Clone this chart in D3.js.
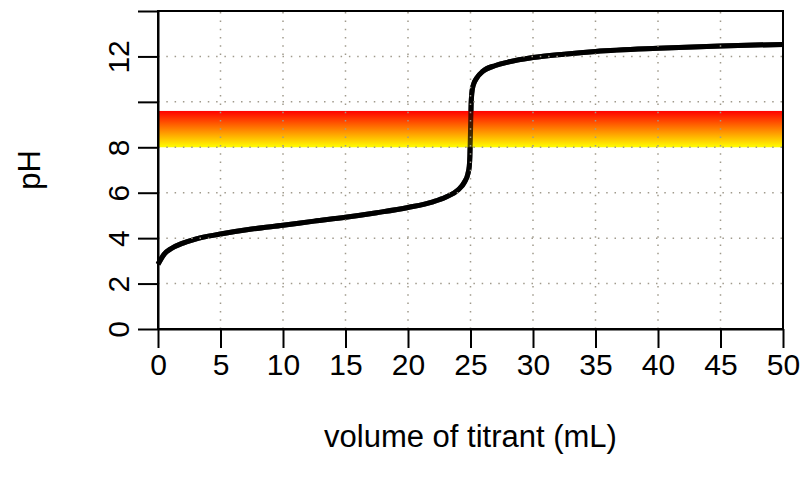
<!DOCTYPE html>
<html>
<head>
<meta charset="utf-8">
<script src="https://d3js.org/d3.v7.min.js"></script>
<style>
  body { margin: 0; background: #fff; }
  text { font-family: "Liberation Sans", Arial, sans-serif; }
</style>
</head>
<body>
<div class="svg_area"></div>
<script>
// titration curve
var volume = [0, 0.5, 1, 2, 3, 5, 7.5, 10, 12.5, 15, 17.5, 20, 22, 23, 24, 24.5, 24.8, 24.9, 24.95,
  25, 25.05, 25.1, 25.2, 25.5, 26, 27, 28, 30, 32.5, 35, 40, 45, 50];
var pH = [2.85, 3.3, 3.52, 3.78, 3.96, 4.18, 4.4, 4.57, 4.75, 4.92, 5.12, 5.35, 5.6, 5.8, 6.12, 6.45, 6.85, 7.15, 7.6,
  8.7, 9.9, 10.35, 10.7, 11.05, 11.35, 11.6, 11.75, 11.95, 12.1, 12.22, 12.36, 12.46, 12.53];

// indicator band (pH range)
var band = [8, 9.6];

var xTicks = [0, 5, 10, 15, 20, 25, 30, 35, 40, 45, 50];
var yTicks = [0, 2, 4, 6, 8, 10, 12, 14];
var yTickLabels = ["0", "2", "4", "6", "8", "", "12", ""];

var svgWidth = 804;
var svgHeight = 480;

var margin = { top: 11, right: 21, bottom: 151, left: 158 };
var chartWidth = svgWidth - margin.left - margin.right;
var chartHeight = svgHeight - margin.top - margin.bottom;

var svg = d3.select(".svg_area")
  .append("svg")
  .attr("width", svgWidth)
  .attr("height", svgHeight);

var defs = svg.append("defs");
var grad = defs.append("linearGradient")
  .attr("id", "bandGrad")
  .attr("x1", 0).attr("y1", 0)
  .attr("x2", 0).attr("y2", 1);
grad.append("stop").attr("offset", "0%").attr("stop-color", "#ff0000");
grad.append("stop").attr("offset", "50%").attr("stop-color", "#ff8000");
grad.append("stop").attr("offset", "100%").attr("stop-color", "#ffff00");

var chartGroup = svg.append("g")
  .attr("transform", `translate(${margin.left}, ${margin.top})`);

var xScale = d3.scaleLinear().domain([0, 50]).range([0, chartWidth]);
var yScale = d3.scaleLinear().domain([0, 14]).range([chartHeight, 0]);

var points = volume.map((v, i) => [v, pH[i]]);
var line = d3.line()
  .x(d => xScale(d[0]))
  .y(d => yScale(d[1]))
  .curve(d3.curveMonotoneX);

// curve under the band
chartGroup.append("path")
  .datum(points)
  .attr("d", line)
  .attr("fill", "none")
  .attr("stroke", "#000")
  .attr("stroke-width", 5)
  .attr("stroke-linejoin", "round");

chartGroup.append("rect")
  .attr("x", xScale(0))
  .attr("y", yScale(band[1]))
  .attr("width", xScale(50) - xScale(0))
  .attr("height", yScale(band[0]) - yScale(band[1]))
  .attr("fill", "url(#bandGrad)");

// curve shows through the band
chartGroup.append("path")
  .datum(points)
  .attr("d", line)
  .attr("fill", "none")
  .attr("stroke", "#000")
  .attr("stroke-opacity", 0.75)
  .attr("stroke-width", 5)
  .attr("stroke-linejoin", "round");

// dotted grid
chartGroup.selectAll(".vgrid")
  .data(xTicks)
  .enter()
  .append("line")
  .attr("x1", d => xScale(d)).attr("x2", d => xScale(d))
  .attr("y1", yScale(0)).attr("y2", yScale(14))
  .attr("stroke", "#a09a8c")
  .attr("stroke-width", 1.5)
  .attr("stroke-dasharray", "1.5,6.8");

chartGroup.selectAll(".hgrid")
  .data(yTicks)
  .enter()
  .append("line")
  .attr("x1", xScale(0)).attr("x2", xScale(50))
  .attr("y1", d => yScale(d)).attr("y2", d => yScale(d))
  .attr("stroke", "#a09a8c")
  .attr("stroke-width", 1.5)
  .attr("stroke-dasharray", "1.5,6.8");

// box
chartGroup.append("rect")
  .attr("width", chartWidth)
  .attr("height", chartHeight)
  .attr("fill", "none")
  .attr("stroke", "#000")
  .attr("stroke-width", 2);

// axes
var bottomAxis = d3.axisBottom(xScale)
  .tickValues(xTicks)
  .tickSize(19)
  .tickSizeOuter(0)
  .tickPadding(6);

var leftAxis = d3.axisLeft(yScale)
  .tickValues(yTicks)
  .tickFormat((d, i) => yTickLabels[i])
  .tickSize(20)
  .tickSizeOuter(0);

var xAxisG = chartGroup.append("g")
  .attr("transform", `translate(0, ${chartHeight})`)
  .call(bottomAxis);

var yAxisG = chartGroup.append("g")
  .call(leftAxis);

[xAxisG, yAxisG].forEach(function(g) {
  g.select(".domain").attr("stroke-width", 2);
  g.selectAll(".tick line").attr("stroke-width", 2);
  g.selectAll(".tick text")
    .attr("font-size", 30)
    .attr("fill", "#000");
});

yAxisG.selectAll(".tick text")
  .attr("x", 0)
  .attr("dy", 0)
  .attr("text-anchor", "middle")
  .attr("transform", "translate(-29, 0) rotate(-90)");

// axis titles
svg.append("text")
  .attr("x", margin.left + chartWidth / 2)
  .attr("y", 447)
  .attr("text-anchor", "middle")
  .attr("font-size", 31)
  .text("volume of titrant (mL)");

svg.append("text")
  .attr("transform", `translate(40, ${margin.top + chartHeight / 2}) rotate(-90)`)
  .attr("text-anchor", "middle")
  .attr("font-size", 31)
  .text("pH");
</script>
</body>
</html>
